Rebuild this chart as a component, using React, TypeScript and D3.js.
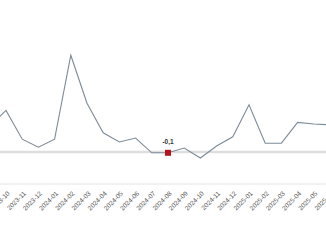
import React from "react";
import * as d3 from "d3";

const months = [
  "2023-09", "2023-10", "2023-11", "2023-12", "2024-01", "2024-02", "2024-03",
  "2024-04", "2024-05", "2024-06", "2024-07", "2024-08", "2024-09", "2024-10",
  "2024-11", "2024-12", "2025-01", "2025-02", "2025-03", "2025-04", "2025-05", "2025-06",
];
const values = [
  3.2, 5.2, 1.6, 0.6, 1.6, 12.1, 6.1,
  2.4, 1.25, 1.75, -0.1, -0.1, 0.5, -0.75,
  0.75, 1.9, 5.9, 1.1, 1.1, 3.7, 3.5, 3.4,
];
const highlightMonth = "2024-08";
const highlightLabel = "-0,1";

const W = 326;
const H = 245;

export default function App() {
  const x = d3.scalePoint<string>().domain(months).range([-10.2, 330]);
  const y = d3.scaleLinear().domain([-4, 14]).range([184, 40]);
  const line = d3
    .line<number>()
    .x((_, i) => x(months[i]) as number)
    .y((d) => y(d));
  const hi = months.indexOf(highlightMonth);
  const hx = x(highlightMonth) as number;
  const hy = y(values[hi]);
  return (
    <svg
      width={W}
      height={H}
      style={{ position: "absolute", left: 0, top: 0, background: "#fff" }}
      fontFamily="'Liberation Sans', Arial, sans-serif"
    >
      <line x1={0} x2={W} y1={184} y2={184} stroke="#e4e4e4" strokeWidth={1} />
      <line x1={0} x2={W} y1={y(0)} y2={y(0)} stroke="#dedede" strokeWidth={2.5} />
      <path d={line(values) || ""} fill="none" stroke="#7d8b98" strokeWidth={1.1} />
      <rect x={hx - 3} y={hy - 3} width={6} height={6} fill="#b5121b" />
      <text x={hx} y={hy - 9} textAnchor="middle" fontSize={6.5} fontWeight="bold" fill="#333">
        {highlightLabel}
      </text>
      {months.map((m) => {
        const px = (x(m) as number) + 4;
        return (
          <text
            key={m}
            x={px}
            y={194}
            fontSize={6.5}
            fill="#555"
            textAnchor="end"
            transform={`rotate(-45 ${px} 194)`}
          >
            {m}
          </text>
        );
      })}
    </svg>
  );
}
